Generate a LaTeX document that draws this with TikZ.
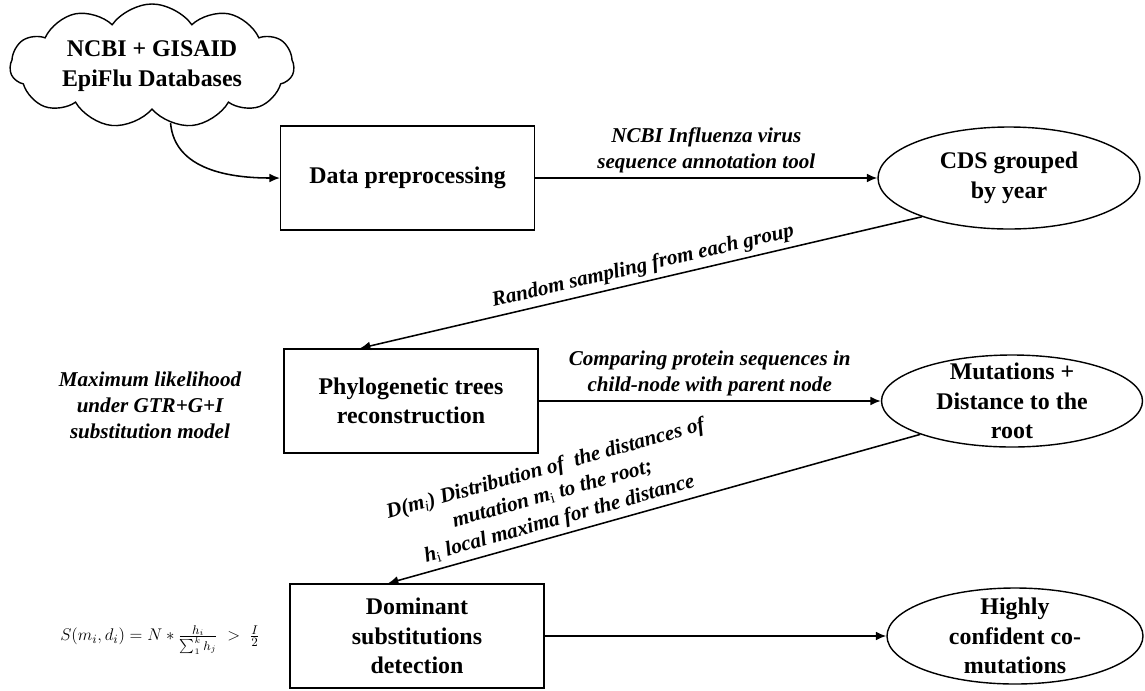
\documentclass[tikz,border=0pt]{standalone}
\usepackage{fontspec}
\setmainfont{Liberation Serif}
\usetikzlibrary{shapes.geometric,shapes.symbols,arrows.meta}

\begin{document}
\begin{tikzpicture}[
   boxtext/.style={font=\fontsize{17}{21}\selectfont\bfseries, align=center},
   stage/.style={draw, rectangle, line width=1pt, minimum width=6.35cm, minimum height=2.6cm, boxtext},
   outcome/.style={draw, ellipse, line width=1pt, inner sep=0pt},
   note/.style={font=\fontsize{15}{18.5}\selectfont\bfseries\itshape, align=center},
   flow/.style={line width=1.1pt, -{Latex[length=2.6mm,width=2.2mm]}},
   flowback/.style={line width=1.1pt, {Latex[length=2.6mm,width=2.2mm]}-}
 ]
   \useasboundingbox (0,0) rectangle (28.625,-17.25);
   \node[draw, cloud, cloud puffs=11, cloud puff arc=110, aspect=2.6, line width=1pt, minimum width=7.1cm, minimum height=3.1cm,
         label={[boxtext]center:NCBI + GISAID\\EpiFlu Databases}] (db) at (3.8,-1.65) {};
   \node[stage] (prep)  at (10.19,-4.45)  {Data preprocessing};
   \node[stage] (phylo) at (10.275,-10.025) {Phylogenetic trees\\reconstruction};
   \node[stage] (dom)   at (10.425,-15.9) {Dominant\\substitutions\\detection};
   \node[outcome, minimum width=6.55cm, minimum height=2.55cm,
         label={[boxtext]center:CDS grouped\\by year}] (cds) at (25.225,-4.45) {};
   \node[outcome, minimum width=6.525cm, minimum height=2.3cm,
         label={[boxtext]center:Mutations +\\Distance to the\\root}] (mut) at (25.3,-10.025) {};
   \node[outcome, minimum width=6.4cm, minimum height=2.4cm,
         label={[boxtext]center:Highly\\confident co-\\mutations}] (conf) at (25.375,-15.9) {};
   \node[note] (ml) at (3.75,-10.125) {Maximum likelihood\\under GTR+G+I\\substitution model};
   \node[font=\fontsize{13}{15}\selectfont] (score) at (4,-16)
         {$S(m_i,d_i) = N * \frac{h_i}{\sum_1^k h_j} \;>\; \frac{I}{2}$};

   \draw[flow] (db.-72) to[out=-85, in=180] (prep.west);
   \draw[flow] (prep) -- node[note, above]{NCBI Influenza virus\\sequence annotation tool} (cds);
   \draw[flowback] ([xshift=-1.275cm]phylo.north) -- node[note, sloped, above, pos=0.51]{Random sampling from each group} (cds.204);
   \draw[flow] (phylo) -- node[note, above]{Comparing protein sequences in\\child-node with parent node} (mut);
   \draw[flowback] ([xshift=-0.725cm]dom.north) -- node[note, sloped, above, pos=0.33]
         {D(m$_\mathit{i}$) Distribution of\ \ the distances of\\mutation m$_\mathrm{i}$ to the root;\\h$_\mathrm{i}$ local maxima for the distance} (mut.200);
   \draw[flow] (dom) -- (conf);
\end{tikzpicture}
\end{document}
